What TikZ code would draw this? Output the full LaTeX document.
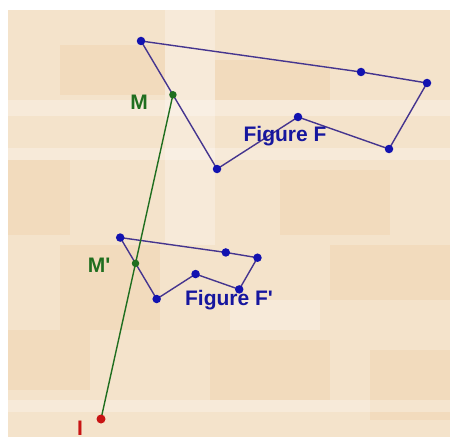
\documentclass[tikz,border=0pt]{standalone}
\usepackage{fontspec}
\setmainfont{Liberation Sans}
\usepackage{xcolor}
\usepackage{tikz}
\usetikzlibrary{calc}
\definecolor{xbeige}{HTML}{F4E3CB}
\definecolor{xtan}{HTML}{EFC99A}
\definecolor{xblue}{HTML}{1212B0}
\definecolor{xtext}{HTML}{16169E}
\definecolor{xline}{HTML}{45358F}
\definecolor{xgreen}{HTML}{1F6E1F}
\definecolor{xred}{HTML}{C81414}

\begin{document}
\begin{tikzpicture}[
    x=1pt, y=-1pt,
    dot/.style={circle, fill=#1, inner sep=0pt, minimum size=8.5pt},
    edge/.style={line width=1.4pt, color=#1},
    lbl/.style={font=\fontsize{21}{21}\selectfont\bfseries, text=#1, inner sep=0pt},
    patch/.style={fill=#1, draw=none, opacity=0.28},
]

% --- Background ---
\useasboundingbox (0,0) rectangle (450,444);
\fill[white] (0,0) rectangle (450,444);
\fill[xbeige] (8,10) rectangle (450,437);
\fill[patch=xtan] (8,160) rectangle (70,235);
\fill[patch=xtan] (60,45) rectangle (165,95);
\fill[patch=xtan] (215,60) rectangle (330,100);
\fill[patch=xtan] (280,170) rectangle (390,235);
\fill[patch=xtan] (60,245) rectangle (160,330);
\fill[patch=xtan] (330,245) rectangle (450,300);
\fill[patch=xtan] (8,330) rectangle (90,390);
\fill[patch=xtan] (210,340) rectangle (330,400);
\fill[patch=xtan] (370,350) rectangle (450,420);
\fill[patch=white] (165,10) rectangle (215,245);
\fill[patch=white] (8,100) rectangle (450,116);
\fill[patch=white] (8,148) rectangle (450,160);
\fill[patch=white] (230,300) rectangle (320,330);
\fill[patch=white] (8,400) rectangle (450,412);

% --- Figure F ---
\coordinate (I) at (101,419);
\coordinate (a1) at (141,41);
\coordinate (a2) at (361,72);
\coordinate (a3) at (427,83);
\coordinate (a4) at (389,149);
\coordinate (a5) at (298,117);
\coordinate (a6) at (217,169);
\coordinate (M) at ($(a1)!0.42!(a6)$);

% --- Figure F' (image by the homothety of centre I) ---
\foreach \k in {1,...,6}
    \coordinate (b\k) at ($(I)!0.48!(a\k)$);
\coordinate (Mp) at ($(I)!0.48!(M)$);

% --- Polygons ---
\draw[edge=xline] (a1) -- (a2) -- (a3) -- (a4) -- (a5) -- (a6) -- cycle;
\draw[edge=xline] (b1) -- (b2) -- (b3) -- (b4) -- (b5) -- (b6) -- cycle;

% --- Ray from I ---
\draw[edge=xgreen] (I) -- (M);

% --- Points ---
\foreach \k in {1,...,6} {
    \node[dot=xblue] (pa\k) at (a\k) {};
    \node[dot=xblue] (pb\k) at (b\k) {};
}
\node[dot=xgreen, minimum size=7.5pt] (pM) at (M) {};
\node[dot=xgreen, minimum size=7.5pt] (pMp) at (Mp) {};
\node[dot=xred, minimum size=9pt] (pI) at (I) {};

% --- Labels ---
\node[lbl=xgreen] (lM) at (139,102) {M};
\node[lbl=xgreen] (lMp) at (99,265) {M\textquotesingle};
\node[lbl=xred] (lI) at (80,428) {I};
\node[lbl=xtext] (lF) at (285,136) {Figure F};
\node[lbl=xtext] (lFp) at (229,300) {Figure F\textquotesingle};

\end{tikzpicture}
\end{document}
